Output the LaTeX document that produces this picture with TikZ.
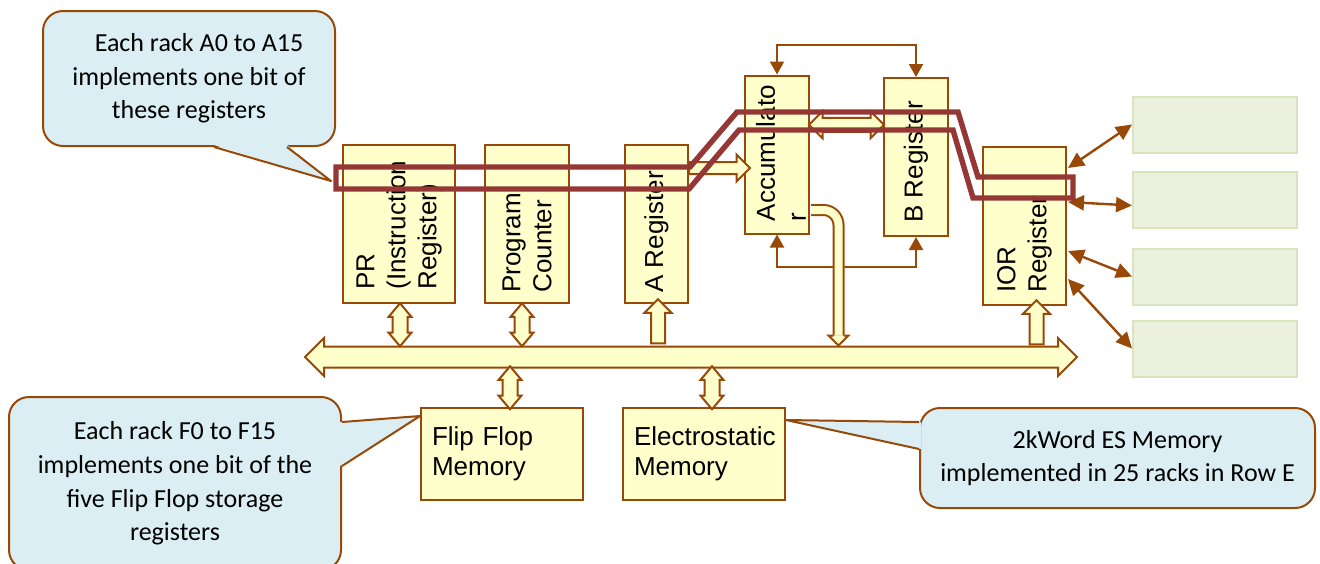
\documentclass[tikz,border=0pt]{standalone}
\usepackage{fontspec}
\setmainfont{Liberation Sans}
\newfontfamily\notefont{Carlito}
\usepackage{xcolor}
\definecolor{rust}{HTML}{984807}
\definecolor{cream}{HTML}{FFFFCC}
\definecolor{aqua}{HTML}{DAEEF3}
\definecolor{sage}{HTML}{EBF1DE}
\definecolor{sageline}{HTML}{D7E4BD}
\definecolor{wine}{HTML}{953735}
\usepackage{tikz}
\usetikzlibrary{arrows.meta,positioning,calc,shapes.arrows}
\tikzset{
    reg_box/.style={draw=rust, fill=cream, line width=1pt, inner sep=0pt, minimum height=79pt},
    mem_box/.style={draw=rust, fill=cream, line width=1pt, minimum width=81pt, minimum height=46pt, text width=70pt, inner xsep=5.5pt, align=left, font=\fontsize{13}{15}\selectfont},
    io_box/.style={draw=sageline, fill=sage, line width=1pt, minimum width=82pt, minimum height=28pt},
    note_box/.style={draw=rust, fill=aqua, line width=1pt, rounded corners=10pt, align=center, font=\notefont\fontsize{13}{16.8}\selectfont},
    note_line/.style={draw=rust, line width=1pt, line join=round},
    bus_arrow/.style={double arrow, draw=rust, fill=cream, line width=1pt, inner xsep=0pt},
    lift_arrow/.style={single arrow, draw=rust, fill=cream, line width=1pt, inner xsep=0pt},
    trace_line/.style={draw=wine, line width=2.7pt, line join=miter}
}

\begin{document}
\begin{tikzpicture}[
    x=0.5pt, y=-0.5pt,
    reg_text/.style={rotate=90, anchor=west, align=left, inner sep=0pt, font=\fontsize{13}{15.5}\selectfont},
    reg_link/.style={{Triangle[length=6.5pt, width=7pt]}-{Triangle[length=6.5pt, width=7pt]}, draw=rust, line width=1pt},
    io_link/.style={{Triangle[length=8pt, width=7.5pt]}-{Triangle[length=8pt, width=7.5pt]}, draw=rust, line width=1.2pt},
    port_arrow/.style={bus_arrow, rotate=90, minimum height=21.5pt, minimum width=10.5pt, inner ysep=3.25pt, double arrow head extend=2pt, double arrow tip angle=80},
    up_arrow/.style={lift_arrow, rotate=90, minimum height=22pt, minimum width=12.5pt, inner ysep=3pt, single arrow head extend=3.25pt},
    drop_line/.style={draw=rust, line width=1pt, double=cream, double distance=4pt, rounded corners=7.5pt}
]
  \useasboundingbox (0,0) rectangle (1320,563);

  % Row 1: register racks
  \node[reg_box, minimum width=56pt] (pr) at (399,224) {};
  \node[reg_box, minimum width=42pt, right=14pt of pr] (pc) {};
  \node[reg_box, minimum width=31.5pt, right=27pt of pc] (areg) {};
  \node[reg_box, minimum width=32pt] (acc) at (777,154.5) {};
  \node[reg_box, minimum width=32pt] (breg) at (916,157) {};
  \node[reg_box, minimum width=41.5pt] (ior) at (1024.5,226) {};

  \node[reg_text] (pr_text) at ($(pr.south)+(0,-14)$) {PR\\(Instruction\\Register)};
  \node[reg_text] (pc_text) at ($(pc.south)+(0,-11)$) {Program\\Counter};
  \node[reg_text] (a_text) at ($(areg.south)+(0,-11)$) {A Register};
  \node[reg_text] (acc_text) at ($(acc.south)+(4,-13)$) {Accumulato\\r};
  \node[reg_text] (b_text) at ($(breg.south)+(0,-14)$) {B Register};
  \node[reg_text] (ior_text) at ($(ior.south)+(0,-13)$) {IOR\\Register};

  % Row 2: memories
  \node[mem_box] (ffmem) at (502,454) {Flip Flop\\Memory};
  \node[mem_box, right=19pt of ffmem] (esmem) {Electrostatic\\Memory};

  % I/O devices
  \node[io_box] (io1) at (1215,124.5) {};
  \node[io_box, below=8.5pt of io1] (io2) {};
  \node[io_box, below=9.5pt of io2] (io3) {};
  \node[io_box, below=7pt of io3] (io4) {};

  % Main bus and ports
  \node[bus_arrow, minimum height=386pt, minimum width=18pt, inner ysep=4.75pt, double arrow head extend=4.25pt] (bus) at (691,357) {};
  \node[port_arrow] (pr_port) at ($(pr.south)!0.5!(pr.south |- bus.north)+(1,0)$) {};
  \node[port_arrow] (pc_port) at ($(pc.south)!0.5!(pc.south |- bus.north)+(-5,0)$) {};
  \node[up_arrow] (a_port) at ($(areg.south)!0.5!(areg.south |- bus.north)+(1.5,0)$) {};
  \node[up_arrow] (ior_port) at ($(ior.south)!0.5!(ior.south |- bus.north)+(12,0)$) {};
  \node[port_arrow] (ff_port) at ($(ffmem.north)!0.5!(ffmem.north |- bus.south)+(8,0)$) {};
  \node[port_arrow] (es_port) at ($(esmem.north)!0.5!(esmem.north |- bus.south)+(8,0)$) {};

  % Register to register paths
  \node[lift_arrow, minimum height=30.5pt, minimum width=12.5pt, inner ysep=2.5pt, single arrow head extend=3.75pt] (a_acc) at ($(areg.north east)!0.5!(acc.west |- areg.north east)+(0,24)$) {};
  \node[bus_arrow, minimum height=37.5pt, minimum width=12.5pt, inner ysep=3pt, double arrow head extend=3.25pt] (acc_b) at ($(acc.north east)!0.5!(breg.north west)+(0,49)$) {};
  \draw[reg_link] (acc.north) -- ++(0,-30) -| (breg.north);
  \draw[reg_link] (acc.south) -- ++(0,32) -| (breg.south);

  % Accumulator drop onto the bus
  \coordinate (acc_out) at ($(acc.south east)+(1,-24.5)$);
  \coordinate (drop_x) at ($(acc.south east)+(28.5,0)$);
  \coordinate (drop_tip) at (drop_x |- bus.north);
  \draw[drop_line] (acc_out) -| ($(drop_tip)+(0,-10)$);
  \filldraw[draw=rust, fill=cream, line width=1pt] ($(drop_tip)+(-5,-10)$) -- ++(-5,0) -- (drop_tip) -- ($(drop_tip)+(10,-10)$) -- ++(-5,0);

  % IOR links to devices
  \draw[io_link] ($(ior.north east)+(1,22)$) -- (io1.west);
  \draw[io_link] ($(ior.north east)+(1,56)$) -- ($(io2.west)+(0,6)$);
  \draw[io_link] ($(ior.north east)+(1,105)$) -- (io3.west);
  \draw[io_link] ($(ior.north east)+(1,133)$) -- (io4.west);

  % Callouts
  \node[note_box, minimum width=146pt, minimum height=67.5pt] (note_a) at (189,78.5) {\hspace*{10pt}Each rack A0 to A15\\implements one bit of\\these registers};
  \coordinate (tip_a) at ($(pr.north west)+(-11,37)$);
  \fill[aqua] ($(note_a.south west)+(172,-2)$) -- (tip_a) -- ($(note_a.south west)+(245,-2)$) -- cycle;
  \draw[note_line] ($(note_a.south west)+(172,0)$) -- (tip_a) -- ($(note_a.south west)+(245,0)$);

  \node[note_box, minimum width=166pt, minimum height=86.5pt] (note_f) at (175,483.5) {Each rack F0 to F15\\implements one bit of the\\five Flip Flop storage\\registers};
  \coordinate (tip_f) at ($(ffmem.north west)+(0,9)$);
  \fill[aqua] ($(note_f.north east)+(-2,26)$) -- (tip_f) -- ($(note_f.north east)+(-2,70)$) -- cycle;
  \draw[note_line] ($(note_f.north east)+(0,26)$) -- (tip_f) -- ($(note_f.north east)+(0,70)$);

  \node[note_box, minimum width=197.5pt, minimum height=50pt] (note_e) at (1117.5,458) {2kWord ES Memory\\implemented in 25 racks in Row E};
  \coordinate (tip_e) at ($(esmem.north east)+(0,13)$);
  \fill[aqua] ($(note_e.north west)+(2,15)$) -- (tip_e) -- ($(note_e.north west)+(2,42)$) -- cycle;
  \draw[note_line] ($(note_e.north west)+(0,15)$) -- (tip_e) -- ($(note_e.north west)+(0,42)$);

  % Bit slice trace through the racks
  \draw[trace_line] (336,167) -- (690,167) -- (737,112) -- (958,112) -- (978,177) -- (1073,177) -- (1073,198) -- (973,198) -- (953,130) -- (739,130) -- (689,189) -- (336,189) -- cycle;

\end{tikzpicture}
\end{document}
